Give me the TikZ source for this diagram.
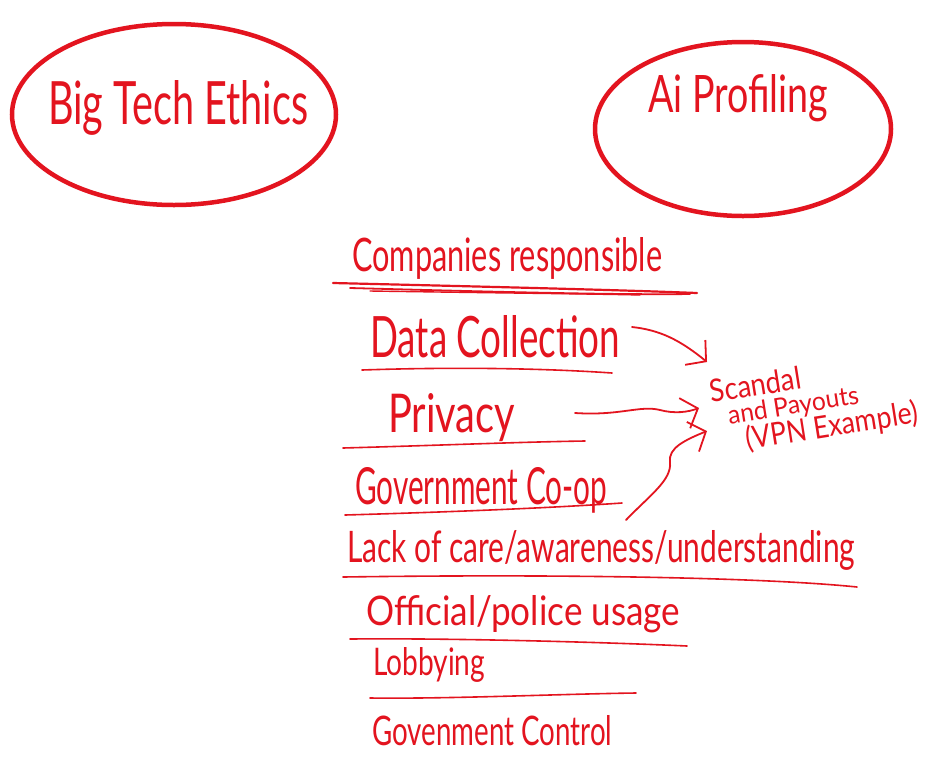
\documentclass[tikz,border=0pt]{standalone}
\usepackage{fontspec}
\usepackage{graphicx}
\setmainfont{Lato}
\usetikzlibrary{arrows.meta,shapes.geometric}
\definecolor{ink}{HTML}{E3141F}
\newcommand\fitbox[3]{\resizebox{#1pt}{#2pt}{#3}}
\begin{document}
\begin{tikzpicture}[x=1pt,y=-1pt,
  ring/.style={draw=ink, ellipse, line width=4.5pt, inner sep=0pt},
  hw/.style={anchor=base west, inner sep=0pt, text=ink},
  uline/.style={draw=ink, line width=1.6pt, line cap=round},
  pen/.style={draw=ink, line width=1.8pt, line cap=round, line join=round},
  barb/.style={-{Straight Barb[length=14pt,width=32pt,line width=1.8pt]}}]
\useasboundingbox (0,0) rectangle (926,764);
\fill[white] (0,0) rectangle (926,764);

% ellipses
\node[ring, minimum width=324pt, minimum height=181pt] (e1) at (174,114.5) {};
\node[ring, minimum width=296pt, minimum height=174pt] (e2) at (743,129) {};
\node[hw] (t1) at (48,124) {\fitbox{260}{44}{Big Tech Ethics}};
\node[hw] (t2) at (648,112) {\fitbox{180}{38}{Ai Profiling}};

% list
\node[hw] (comp) at (352,271) {\fitbox{310}{34}{Companies responsible}};
\node[hw] (data) at (370,357) {\fitbox{250}{42}{Data Collection}};
\node[hw] (priv) at (388,432) {\fitbox{127}{39}{Privacy}};
\node[hw] (gov) at (355,504) {\fitbox{252}{37}{Government Co-op}};
\node[hw] (lack) at (347,562) {\fitbox{508}{32}{Lack of care/awareness/understanding}};
\node[hw] (offi) at (366,625) {\fitbox{314}{30}{Official/police usage}};
\node[hw] (lobb) at (373,675) {\fitbox{112}{28}{Lobbying}};
\node[hw] (ctrl) at (372,745) {\fitbox{240}{30}{Govenment Control}};

% underlines
\draw[uline, line width=2.2pt] (333,283) .. controls (500,287) and (620,290) .. (697,293);
\draw[uline, line width=1.8pt] (350,288) .. controls (500,292) and (620,295) .. (690,294);
\draw[uline, line width=1.4pt] (370,291) .. controls (500,293) and (600,294) .. (640,295);
\draw[uline] (362,370) .. controls (450,367) and (540,368) .. (612,373);
\draw[uline] (343,448) .. controls (450,445) and (520,442) .. (585,441);
\draw[uline] (345,515) .. controls (450,512) and (550,508) .. (622,503);
\draw[uline] (343,577) .. controls (550,574) and (760,577) .. (857,587);
\draw[uline] (350,639) .. controls (450,638) and (600,642) .. (687,646);
\draw[uline] (370,698) .. controls (450,699) and (560,694) .. (636,693);

% Scandal label (one node, three lines)
\node[anchor=north west, inner sep=0pt, text=ink, rotate=9, align=left,
      font={\fontsize{10pt}{24pt}\selectfont\lineskiplimit=-100pt}] (scan) at (708,380)
  {\fitbox{92}{23}{Scandal}\\
   \hspace*{14pt}\fitbox{132}{19}{and Payouts}\\[4pt]
   \hspace*{28pt}\fitbox{174}{24}{(VPN Example)}};

% arrows
\coordinate (d0) at (632,327);
\coordinate (p0) at (575,413);
\coordinate (l0) at (626,520);
\coordinate (a1) at (707,362);
\coordinate (a2) at (699,408);
\coordinate (a3) at (707,431);
\draw[pen, barb] (d0) .. controls (660,330) and (680,340) .. (a1);
\draw[pen, barb] (p0) .. controls (620,416) and (640,405) .. (660,410) .. controls (675,414) and (688,412) .. (a2);
\draw[pen, barb] (l0) .. controls (650,495) and (672,480) .. (670,462) .. controls (668,448) and (685,440) .. (a3);
\end{tikzpicture}
\end{document}
